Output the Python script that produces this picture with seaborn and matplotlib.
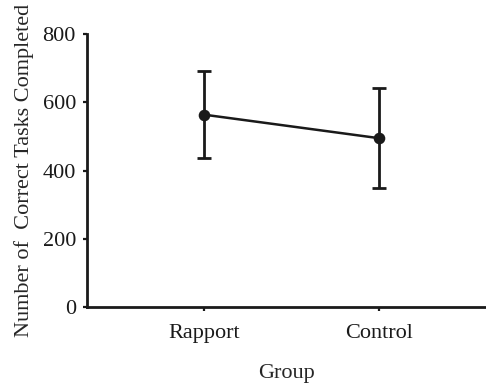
import numpy as np
import pandas as pd
import seaborn as sns
import matplotlib.pyplot as plt

groups = ['Rapport', 'Control']
means = [564, 495]
upper = [691, 641]
lower = [437, 349]

sns.set_theme(style="ticks")
plt.rcParams['font.family'] = ['Liberation Serif', 'DejaVu Serif']

df = pd.DataFrame({'Group': groups, 'Correct': means})

fig = plt.figure(figsize=(4.86, 3.84), dpi=100)
ax = fig.add_axes([0.179, 0.2005, 0.821, 0.7105])

sns.pointplot(data=df, x='Group', y='Correct', color='#1a1a1a',
              errorbar=None, markersize=7, linewidth=1.8, ax=ax)
yerr = [np.array(means) - np.array(lower), np.array(upper) - np.array(means)]
ax.errorbar(x=np.arange(len(groups)), y=means, yerr=yerr, fmt='none',
            ecolor='#1a1a1a', elinewidth=2, capsize=5, capthick=2)

ax.set_ylim(0, 800)
ax.set_yticks([0, 200, 400, 600, 800])
ax.set_xlim(-0.669, 1.611)
ax.set_xlabel('Group', fontsize=16, labelpad=15)
ax.set_ylabel('Number of  Correct Tasks Completed', fontsize=16, labelpad=6)
ax.tick_params(axis='both', labelsize=16, width=1.6, length=3, color='#1a1a1a',
               labelcolor='#1a1a1a')
ax.tick_params(axis='x', pad=9)
ax.tick_params(axis='y', pad=5)
for s in ['left', 'bottom']:
    ax.spines[s].set_linewidth(2)
    ax.spines[s].set_color('#1a1a1a')
sns.despine(ax=ax)

fig.savefig('out.png', dpi=100)
